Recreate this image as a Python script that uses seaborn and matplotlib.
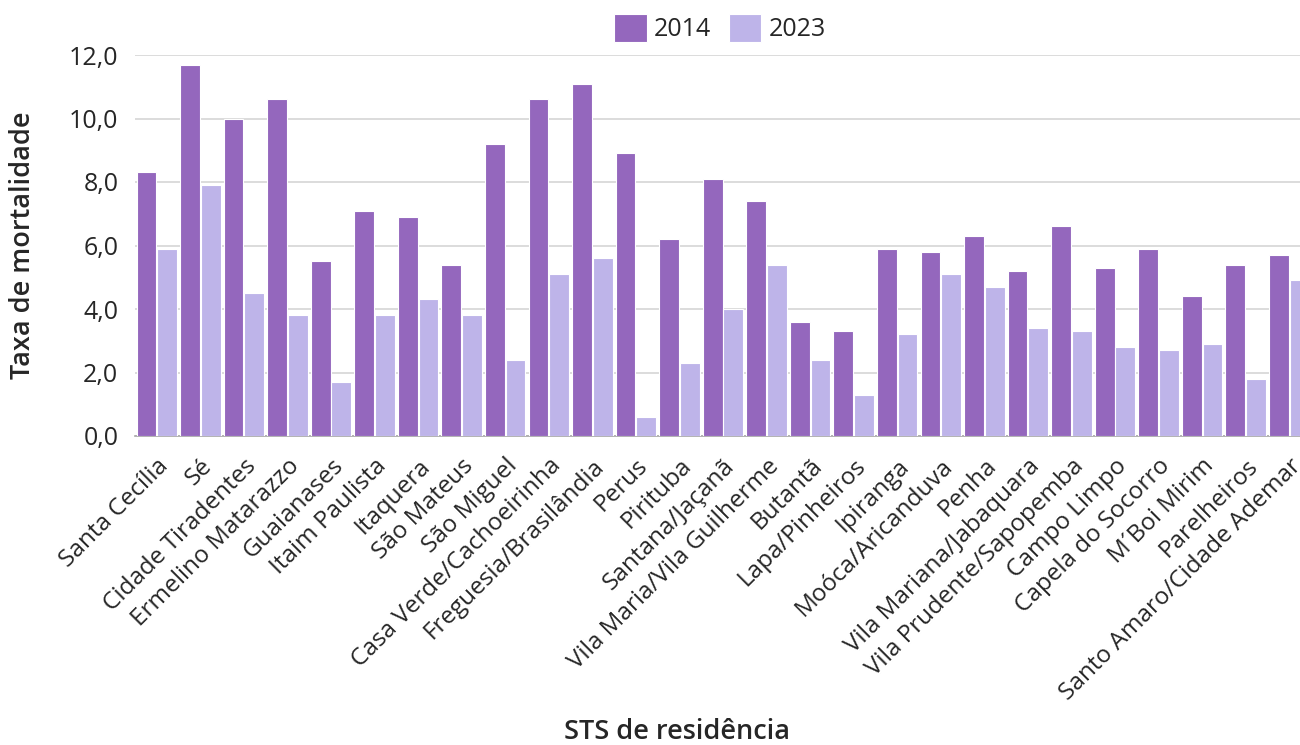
import matplotlib
matplotlib.use("Agg")
import matplotlib.pyplot as plt
import numpy as np
import pandas as pd
import seaborn as sns

# dados
sts = ["Santa Cecília", "Sé", "Cidade Tiradentes", "Ermelino Matarazzo", "Guaianases",
       "Itaim Paulista", "Itaquera", "São Mateus", "São Miguel", "Casa Verde/Cachoeirinha",
       "Freguesia/Brasilândia", "Perus", "Pirituba", "Santana/Jaçanã",
       "Vila Maria/Vila Guilherme", "Butantã", "Lapa/Pinheiros", "Ipiranga",
       "Moóca/Aricanduva", "Penha", "Vila Mariana/Jabaquara", "Vila Prudente/Sapopemba",
       "Campo Limpo", "Capela do Socorro", "M´Boi Mirim", "Parelheiros",
       "Santo Amaro/Cidade Ademar"]
taxa_2014 = [8.3, 11.7, 10.0, 10.6, 5.5, 7.1, 6.9, 5.4, 9.2, 10.6, 11.1, 8.9, 6.2, 8.1,
             7.4, 3.6, 3.3, 5.9, 5.8, 6.3, 5.2, 6.6, 5.3, 5.9, 4.4, 5.4, 5.7]
taxa_2023 = [5.9, 7.9, 4.5, 3.8, 1.7, 3.8, 4.3, 3.8, 2.4, 5.1, 5.6, 0.6, 2.3, 4.0,
             5.4, 2.4, 1.3, 3.2, 5.1, 4.7, 3.4, 3.3, 2.8, 2.7, 2.9, 1.8, 4.9]
anos = ["2014", "2023"]
cores = ["#9467BD", "#BEB4E9"]

df = pd.DataFrame({
    "sts": sts * 2,
    "ano": [anos[0]] * len(sts) + [anos[1]] * len(sts),
    "taxa": taxa_2014 + taxa_2023,
})

sns.set_style("white")
plt.rcParams["font.family"] = ["Open Sans", "DejaVu Sans"]
fs = 17.5

fig = plt.figure(figsize=(13, 7.45), dpi=100)
ax = fig.add_axes([135 / 1300, 309 / 745, 1176 / 1300, 381 / 745])

sns.barplot(data=df, x="sts", y="taxa", hue="ano", palette=cores, saturation=1,
            width=0.95, gap=0.04, edgecolor="white", linewidth=0.8, ax=ax, zorder=3)

ax.set_ylim(0, 12)
ax.set_yticks(np.arange(0, 12.1, 2))
ax.set_yticklabels([f"{v:.1f}".replace(".", ",") for v in np.arange(0, 12.1, 2)], fontsize=fs + 0.5)
ax.set_xlim(-0.5, len(sts) - 0.5)
ax.grid(axis="y", color="#D9D9D9", linewidth=1.3, zorder=0)
ax.tick_params(axis="both", length=0)
ax.tick_params(axis="y", pad=12)
ax.tick_params(axis="x", pad=13)
for lbl in ax.get_xticklabels():
    lbl.set_rotation(45)
    lbl.set_ha("right")
    lbl.set_va("top")
    lbl.set_rotation_mode("anchor")
    lbl.set_fontsize(fs)

for s in ["top", "right", "left"]:
    ax.spines[s].set_visible(False)
ax.spines["bottom"].set_color("#A6A6A6")
ax.spines["bottom"].set_linewidth(1.2)

ax.set_ylabel("Taxa de mortalidade", fontsize=fs + 2, fontweight="semibold")
ax.yaxis.set_label_coords(-0.083, 0.5)
ax.set_xlabel("STS de residência", fontsize=fs + 2, fontweight="semibold")
ax.xaxis.set_label_coords(0.461, -0.74)

h, l = ax.get_legend_handles_labels()
ax.legend(h, l, loc="upper center", bbox_to_anchor=(720 / 1300, 1 - 4 / 745),
          bbox_transform=fig.transFigure, ncol=2, frameon=False, fontsize=fs + 0.5,
          borderaxespad=0, handlelength=1.3, handleheight=1.35, handletextpad=0.3,
          columnspacing=0.7)

fig.savefig("out.png", dpi=100)
